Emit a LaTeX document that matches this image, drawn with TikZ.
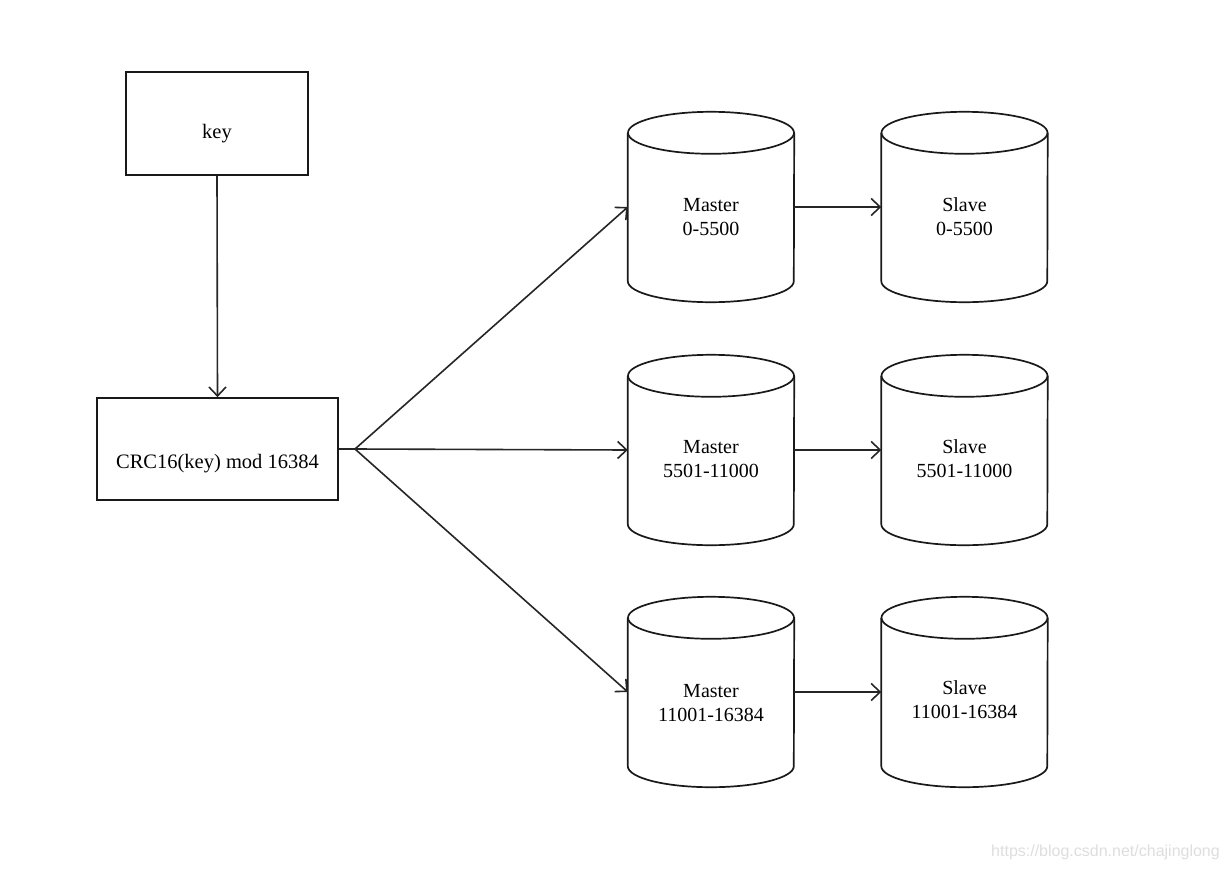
\documentclass[tikz,border=0pt]{standalone}
\usepackage{fontspec}
\setmainfont{Liberation Serif}
\newfontfamily\wmfont{Liberation Sans}
\usetikzlibrary{arrows.meta}
\tikzset{
  box/.style={draw=black!90, line width=1.7pt, inner sep=0pt},
  boxtext/.style={font=\fontsize{20.5}{24}\selectfont, inner sep=0pt},
  cylbody/.style={minimum width=166pt, minimum height=190pt, inner sep=0pt},
  cyltext/.style={align=center, font=\fontsize{20}{24}\selectfont, inner sep=0pt},
  cylline/.style={draw=black!90, line width=1.7pt},
  conn/.style={draw=black!85, line width=1.6pt},
  arr/.style={conn, -{Straight Barb[length=9pt, width=17pt, line width=1.6pt]}},
}
\newcommand\drawcylinder[1]{%
  \draw[cylline] ([yshift=-21pt]#1.north) ellipse [x radius=83pt, y radius=21pt];
  \draw[cylline] ([yshift=-21pt]#1.north west) -- ([yshift=21pt]#1.south west)
     arc [start angle=180, end angle=360, x radius=83pt, y radius=21pt]
     -- ([yshift=-21pt]#1.north east);
}
\begin{document}
\begin{tikzpicture}[x=1pt, y=-1pt]
\useasboundingbox[fill=white] (0,0) rectangle (1228,870);

\node[box, minimum width=182pt, minimum height=103pt] (key) at (217,123.5) {};
\node[box, minimum width=241pt, minimum height=102pt] (crc) at (217.5,449) {};
\node[boxtext] (keyt) at ([yshift=-10pt]key.center) {key};
\node[boxtext] (crct) at ([yshift=-15pt]crc.center) {CRC16(key) mod 16384};

\node[cylbody] (m1) at (711,207) {};
\node[cylbody] (m2) at (711,450) {};
\node[cylbody] (m3) at (711,692) {};
\node[cylbody] (s1) at (964.5,207) {};
\node[cylbody] (s2) at (964.5,450) {};
\node[cylbody] (s3) at (964.5,692) {};

\drawcylinder{m1}
\drawcylinder{m2}
\drawcylinder{m3}
\drawcylinder{s1}
\drawcylinder{s2}
\drawcylinder{s3}

\node[cyltext] (t1) at ([yshift=-10pt]m1.center) {Master\\0-5500};
\node[cyltext] (t2) at ([yshift=-9pt]m2.center) {Master\\5501-11000};
\node[cyltext] (t3) at ([yshift=-11pt]m3.center) {Master\\11001-16384};
\node[cyltext] (u1) at ([yshift=-10pt]s1.center) {Slave\\0-5500};
\node[cyltext] (u2) at ([yshift=-9pt]s2.center) {Slave\\5501-11000};
\node[cyltext] (u3) at ([yshift=-8pt]s3.center) {Slave\\11001-16384};

\coordinate (fan) at (355,449);
\draw[arr] (key.south) -- (crc.north);
\draw[conn] (crc.east) -- (fan);
\draw[arr] (fan) -- (m1.west);
\draw[arr] (fan) -- (m2.west);
\draw[arr] (fan) -- (m3.west);
\draw[arr] (m1.east) -- (s1.west);
\draw[arr] (m2.east) -- (s2.west);
\draw[arr] (m3.east) -- (s3.west);

\node[font=\wmfont\fontsize{16}{19}\selectfont, text=black!13, anchor=east, inner sep=0pt] (wm) at (1220,852) {https://blog.csdn.net/chajinglong};
\end{tikzpicture}
\end{document}
